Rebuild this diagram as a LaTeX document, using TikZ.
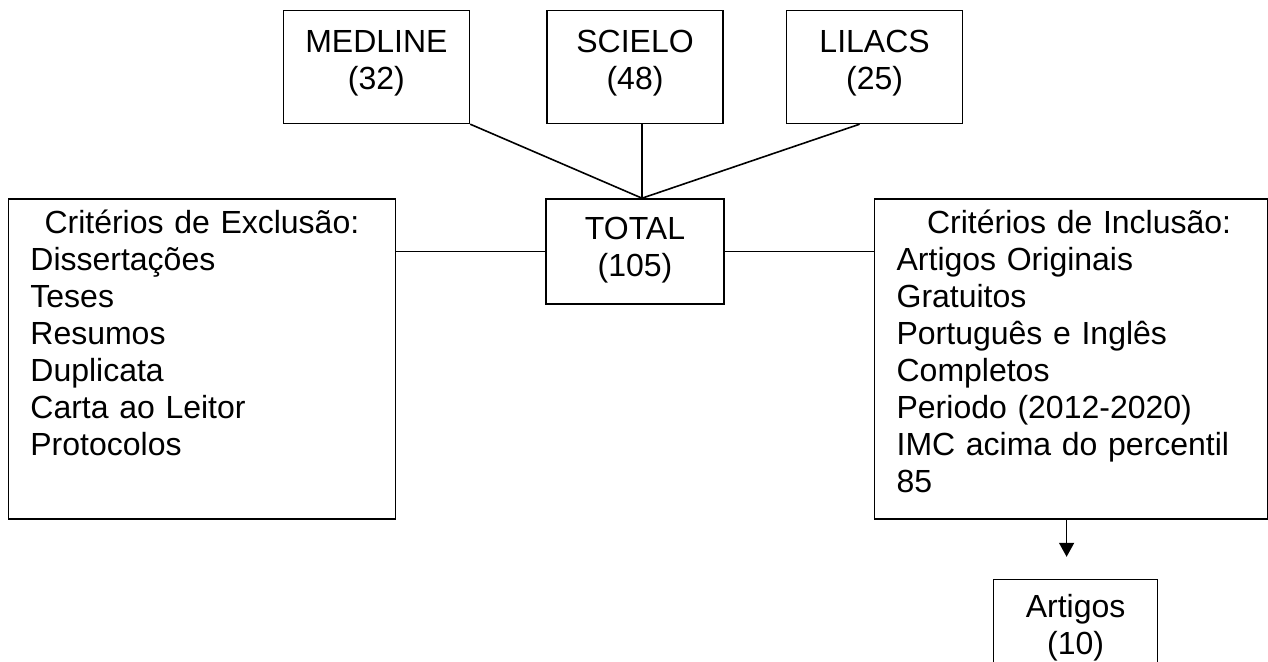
\documentclass[tikz,border=0pt]{standalone}
\usepackage{fontspec}
\setmainfont{Liberation Sans}
\usetikzlibrary{positioning,arrows.meta}

\begin{document}
\begin{tikzpicture}[
    x=1pt, y=1pt,
    node distance=74pt,
    every node/.style={font=\fontsize{32}{37}\selectfont, inner sep=0pt},
    source/.style={rectangle, draw, line width=1.6pt, minimum width=176pt, text height=79pt, text depth=34pt, align=center},
    tally/.style={rectangle, draw, line width=1.6pt, minimum width=178pt, text height=78pt, text depth=27pt, align=center},
    criteria/.style={rectangle, draw, line width=1.6pt, inner xsep=22pt, text height=35pt, text depth=285pt, align=left},
    link/.style={line width=1.6pt},
    arrow/.style={line width=1.6pt, -{Triangle[width=15pt,length=14pt]}}
]

\path[use as bounding box, clip] (0,0) rectangle (1268,661);

% Databases and total
\node[tally] (total) at (635,409.5) {TOTAL\\(105)};
\node[source, above=of total] (scielo) {SCIELO\\(48)};
\node[source, minimum width=186pt, left=76pt of scielo] (medline) {MEDLINE\\(32)};
\node[source, right=62pt of scielo] (lilacs) {LILACS\\(25)};
\coordinate (join) at ([xshift=7pt]total.north);

% Criteria and result
\node[criteria, text width=343pt, left=149pt of total.north west, anchor=north east] (exclusion) {\makebox[\linewidth]{Critérios de Exclusão:}\\Dissertações\\Teses\\Resumos\\Duplicata\\Carta ao Leitor\\Protocolos};
\node[criteria, text width=349pt, right=149pt of total.north east, anchor=north west] (inclusion) {\makebox[\linewidth]{\hspace{16pt}Critérios de Inclusão:}\\Artigos Originais\\Gratuitos\\Português e Inglês\\Completos\\Periodo (2012-2020)\\IMC acima do percentil\\85};
\node[source, minimum width=164pt, text height=75pt, text depth=38pt, below=59pt of inclusion, xshift=4.5pt] (artigos) {Artigos\\(10)};

% Connections
\draw[link] (medline.south east) -- (join);
\draw[link] (scielo.south -| join) -- (join);
\draw[link] ([xshift=-15pt]lilacs.south) -- (join);
\draw[link] (exclusion.east |- total.west) -- (total.west);
\draw[link] (total.east) -- (inclusion.west |- total.east);
\draw[arrow, shorten >=22pt] ([xshift=-4.5pt]inclusion.south) -- ([xshift=-9pt]artigos.north);

\end{tikzpicture}
\end{document}
